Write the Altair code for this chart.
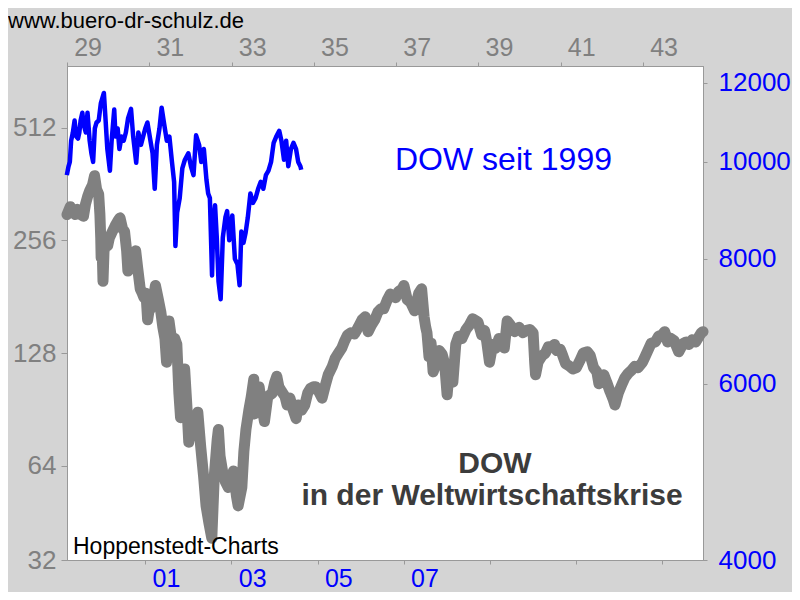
import altair as alt
import pandas as pd

# ---------------- data ----------------
# DOW 1929-1944 (gray, left log axis, top year axis)
gray_t = [
    1929.00, 1929.08, 1929.12, 1929.20, 1929.25, 1929.33, 1929.40, 1929.45, 1929.50, 1929.55,
    1929.62, 1929.67, 1929.72, 1929.77, 1929.80, 1929.82, 1929.83, 1929.85, 1929.865, 1929.875,
    1929.90, 1929.95, 1929.99,
    1930.03, 1930.10, 1930.17, 1930.25, 1930.29, 1930.35, 1930.40, 1930.45, 1930.48, 1930.55,
    1930.62, 1930.67, 1930.72, 1930.78, 1930.82, 1930.87, 1930.92, 1930.96, 1930.99,
    1931.05, 1931.12, 1931.15, 1931.22, 1931.28, 1931.33, 1931.38, 1931.42, 1931.48, 1931.55,
    1931.62, 1931.67, 1931.72, 1931.76, 1931.86, 1931.92, 1931.96, 1931.99,
    1932.05, 1932.12, 1932.18, 1932.25, 1932.32, 1932.38, 1932.45, 1932.52, 1932.58, 1932.65,
    1932.68, 1932.72, 1932.78, 1932.85, 1932.92, 1932.99,
    1933.05, 1933.12, 1933.16, 1933.25, 1933.30, 1933.35, 1933.42, 1933.48, 1933.54, 1933.55,
    1933.62, 1933.67, 1933.72, 1933.80, 1933.88, 1933.99,
    1934.05, 1934.10, 1934.15, 1934.22, 1934.30, 1934.35, 1934.42, 1934.50, 1934.57, 1934.62,
    1934.70, 1934.78, 1934.85, 1934.92, 1934.99,
    1935.05, 1935.12, 1935.20, 1935.28, 1935.35, 1935.45, 1935.52, 1935.60, 1935.68, 1935.75,
    1935.82, 1935.90, 1935.99,
    1936.08, 1936.17, 1936.25, 1936.32, 1936.40, 1936.48, 1936.56, 1936.63, 1936.70, 1936.78,
    1936.86, 1936.99,
    1937.06, 1937.15, 1937.19, 1937.27, 1937.35, 1937.45, 1937.55, 1937.62, 1937.68, 1937.72,
    1937.75, 1937.80, 1937.85, 1937.90, 1937.99,
    1938.05, 1938.12, 1938.18, 1938.24, 1938.30, 1938.38, 1938.45, 1938.52, 1938.60, 1938.70,
    1938.78, 1938.86, 1938.99,
    1939.08, 1939.15, 1939.20, 1939.27, 1939.35, 1939.42, 1939.50, 1939.58, 1939.63, 1939.70,
    1939.78, 1939.88, 1939.99,
    1940.08, 1940.15, 1940.25, 1940.33, 1940.37, 1940.39, 1940.45, 1940.55, 1940.63, 1940.70,
    1940.78, 1940.85, 1940.90, 1940.99,
    1941.05, 1941.12, 1941.22, 1941.30, 1941.38, 1941.48, 1941.55, 1941.65, 1941.72, 1941.80,
    1941.88, 1941.93, 1941.99,
    1942.05, 1942.12, 1942.20, 1942.28, 1942.32, 1942.40, 1942.48, 1942.56, 1942.64, 1942.72,
    1942.80, 1942.88, 1942.99,
    1943.05, 1943.12, 1943.20, 1943.30, 1943.38, 1943.46, 1943.53, 1943.60, 1943.68, 1943.76,
    1943.87, 1943.95, 1943.99,
    1944.05, 1944.12, 1944.20, 1944.28, 1944.35, 1944.42, 1944.46,
]
gray_v = [
    300, 315, 310, 300, 310, 300, 297, 320, 335, 347,
    360, 381, 350, 340, 300, 260, 230, 258, 220, 199,
    240, 250, 248,
    260, 270, 280, 290, 294, 275, 270, 240, 212, 235,
    225, 240, 215, 190, 186, 180, 185, 157, 165,
    170, 185, 194, 178, 165, 150, 140, 121, 156, 137,
    140, 135, 100, 86, 116, 90, 74, 78,
    80, 77, 89, 72, 60, 50, 45, 41, 60, 75,
    80, 68, 62, 58, 56, 60,
    62, 53, 50, 56, 70, 80, 90, 98, 109, 88,
    98, 104, 95, 84, 98, 100,
    107, 111, 104, 101, 98, 93, 97, 90, 85.5, 93,
    90, 93, 100, 103, 104,
    104, 101, 97, 105, 112, 118, 124, 128, 132, 138,
    143, 145, 144,
    150, 157, 160, 146, 152, 157, 165, 168, 168, 177,
    184, 180,
    187, 190, 194, 178, 175, 166, 185, 190, 160, 150,
    145, 125, 136, 114, 121,
    130, 127, 120, 99, 118, 107, 135, 142, 140, 148,
    152, 158, 155,
    143, 147, 138, 121, 135, 132, 140, 138, 132, 156,
    152, 146, 150,
    145, 147, 148, 145, 120, 112, 121, 126, 128, 133,
    133, 135, 130, 131,
    126, 120, 118, 116, 117, 123, 128, 129, 126, 117,
    114, 106, 111,
    112, 107, 101, 96, 93, 100, 105, 110, 113, 115,
    118, 117, 121,
    125, 130, 136, 137, 142, 143, 146, 137, 140, 138,
    129, 134, 136,
    137, 135, 139, 137, 141, 145, 146,
]

# DOW 1999-2004 (blue, right log axis, bottom year axis)
blue_t = [
    1999.18, 1999.22, 1999.25, 1999.28, 1999.32, 1999.36, 1999.40, 1999.44, 1999.47, 1999.50,
    1999.54, 1999.57, 1999.62, 1999.66, 1999.71, 1999.75, 1999.79, 1999.83, 1999.87, 1999.92,
    1999.97,
    2000.04, 2000.08, 2000.12, 2000.18, 2000.22, 2000.28, 2000.31, 2000.36, 2000.40, 2000.45,
    2000.50, 2000.55, 2000.60, 2000.67, 2000.72, 2000.79, 2000.84, 2000.90, 2000.95,
    2001.00, 2001.05, 2001.12, 2001.17, 2001.22, 2001.27, 2001.33, 2001.38, 2001.44, 2001.50,
    2001.56, 2001.62, 2001.67, 2001.70, 2001.74, 2001.80, 2001.86, 2001.92,
    2002.00, 2002.06, 2002.12, 2002.18, 2002.25, 2002.30, 2002.36, 2002.42, 2002.46, 2002.50,
    2002.55, 2002.58, 2002.62, 2002.66, 2002.70, 2002.75, 2002.80, 2002.86, 2002.90, 2002.95,
    2003.02, 2003.08, 2003.14, 2003.19, 2003.23, 2003.28, 2003.33, 2003.38, 2003.44, 2003.50,
    2003.56, 2003.62, 2003.68, 2003.74, 2003.80, 2003.86, 2003.92, 2003.98,
    2004.04, 2004.11, 2004.16, 2004.22, 2004.27, 2004.32, 2004.38, 2004.44, 2004.50, 2004.55,
    2004.60, 2004.62,
]
blue_v = [
    9700, 9900, 10000, 10500, 10700, 11000, 10600, 10550, 10700, 11000,
    11200, 10900, 10700, 11200, 10500, 10200, 10000, 10800, 10950, 11000,
    11450,
    11720, 11000, 10300, 9800, 10500, 11280, 10600, 10800, 10300, 10600,
    10500, 10700, 11050, 11300, 10600, 9980, 10700, 10400, 10600,
    10800, 10950, 10500, 10200, 9400, 10400, 10800, 11330, 10900, 10500,
    10600, 10000, 9550, 8240, 8900, 9200, 9850, 10050,
    10200, 9900, 9700, 10630, 10400, 10000, 10300, 9600, 9300, 9200,
    7700, 8700, 9050, 8400, 7600, 7290, 8400, 8800, 8930, 8350,
    8840, 8000, 7900, 7530, 8520, 8300, 8500, 8800, 9300, 9100,
    9200, 9400, 9550, 9400, 9700, 9800, 10000, 10450,
    10600, 10740, 10500, 10050, 10500, 9900, 10300, 10450, 10300, 10000,
    9900, 9820,
]

top_ticks = [1929, 1931, 1933, 1935, 1937, 1939, 1941, 1943]
bottom_ticks = [2001, 2003, 2005, 2007, 2009, 2011, 2013]
left_ticks = [35.84, 64, 128, 256, 512]
right_ticks = [4000, 6000, 8000, 10000, 12000]

# ---------------- chart ----------------
FONT = "Liberation Sans"
GRAY = "#808080"
BLUE = "#0000ff"
AXIS = "#999999"
W, H = 636, 494

gray_df = pd.DataFrame({"t": gray_t, "v": gray_v})
blue_df = pd.DataFrame({"t": blue_t, "v": blue_v})

gray = alt.Chart(gray_df).mark_line(
    color=GRAY, strokeWidth=11, strokeCap="round", strokeJoin="round"
).encode(
    x=alt.X("t:Q",
            scale=alt.Scale(domain=[1929.0, 1944.46], nice=False, zero=False),
            axis=alt.Axis(orient="top", values=top_ticks,
                          labelExpr="substring(toString(datum.value), 2, 4)",
                          labelOffset=20.6, labelFlush=False, labelColor=GRAY,
                          labelFontSize=25, labelFont=FONT, tickColor=AXIS, tickSize=4,
                          domainColor=AXIS, labelPadding=2, grid=False, title=None)),
    y=alt.Y("v:Q",
            scale=alt.Scale(type="log", base=2, domain=[35.84, 748.3], nice=False, zero=False),
            axis=alt.Axis(orient="left", values=left_ticks,
                          labelExpr="datum.value < 40 ? '32' : toString(datum.value)",
                          labelColor=GRAY, labelFontSize=26, labelFont=FONT,
                          tickColor=AXIS, tickSize=6, domainColor=AXIS, labelPadding=5,
                          labelOverlap=False, grid=False, title=None)),
)

blue = alt.Chart(blue_df).mark_line(
    color=BLUE, strokeWidth=4.5, strokeJoin="round"
).encode(
    x=alt.X("t:Q",
            scale=alt.Scale(domain=[1999.184, 2013.944], nice=False, zero=False),
            axis=alt.Axis(orient="bottom", values=bottom_ticks,
                          labelExpr="datum.value <= 2007 ? substring(toString(datum.value), 2, 4) : ''",
                          labelOffset=20.7, labelFlush=False, labelColor=BLUE,
                          labelFontSize=25, labelFont=FONT, tickColor=AXIS, tickSize=4,
                          domainColor=AXIS, labelPadding=2, grid=False, title=None)),
    y=alt.Y("v:Q",
            scale=alt.Scale(type="log", domain=[4000, 12470], nice=False, zero=False),
            axis=alt.Axis(orient="right", values=right_ticks, format="d",
                          labelColor=BLUE, labelFontSize=26, labelFont=FONT,
                          tickColor=AXIS, tickSize=4, domainColor=AXIS, labelPadding=11,
                          labelOverlap=False, grid=False, title=None)),
)


def txt(s, x, y, size, color, weight="normal", align="left"):
    return alt.Chart(alt.Data(values=[{}])).mark_text(
        text=s, align=align, baseline="alphabetic", fontSize=size, font=FONT,
        fontWeight=weight, color=color
    ).encode(x=alt.value(x), y=alt.value(y))


# text positions relative to plot area (plot origin at page (67, 66))
t_site = txt("www.buero-dr-schulz.de", -59, -38, 22, "#000000")
t_blue = txt("DOW seit 1999", 328, 104, 32, BLUE)
t_dow = txt("DOW", 428, 407, 30, "#3c3c3c", "bold", "center")
t_krise = txt("in der Weltwirtschaftskrise", 425, 439, 30, "#3c3c3c", "bold", "center")
t_hopp = txt("Hoppenstedt-Charts", 6, 488, 23, "#000000")

chart = alt.layer(gray, blue, t_site, t_blue, t_dow, t_krise, t_hopp).resolve_scale(
    x="independent", y="independent"
).properties(
    width=W, height=H,
    padding={"left": 59, "top": 58, "right": 89, "bottom": 32},
    autosize=alt.AutoSizeParams(type="none"),
).configure(
    background="#d4d4d4",
).configure_view(
    fill="#ffffff", stroke=AXIS, strokeWidth=1,
)

chart.save("out.html", embed_options={"renderer": "svg", "actions": False})
